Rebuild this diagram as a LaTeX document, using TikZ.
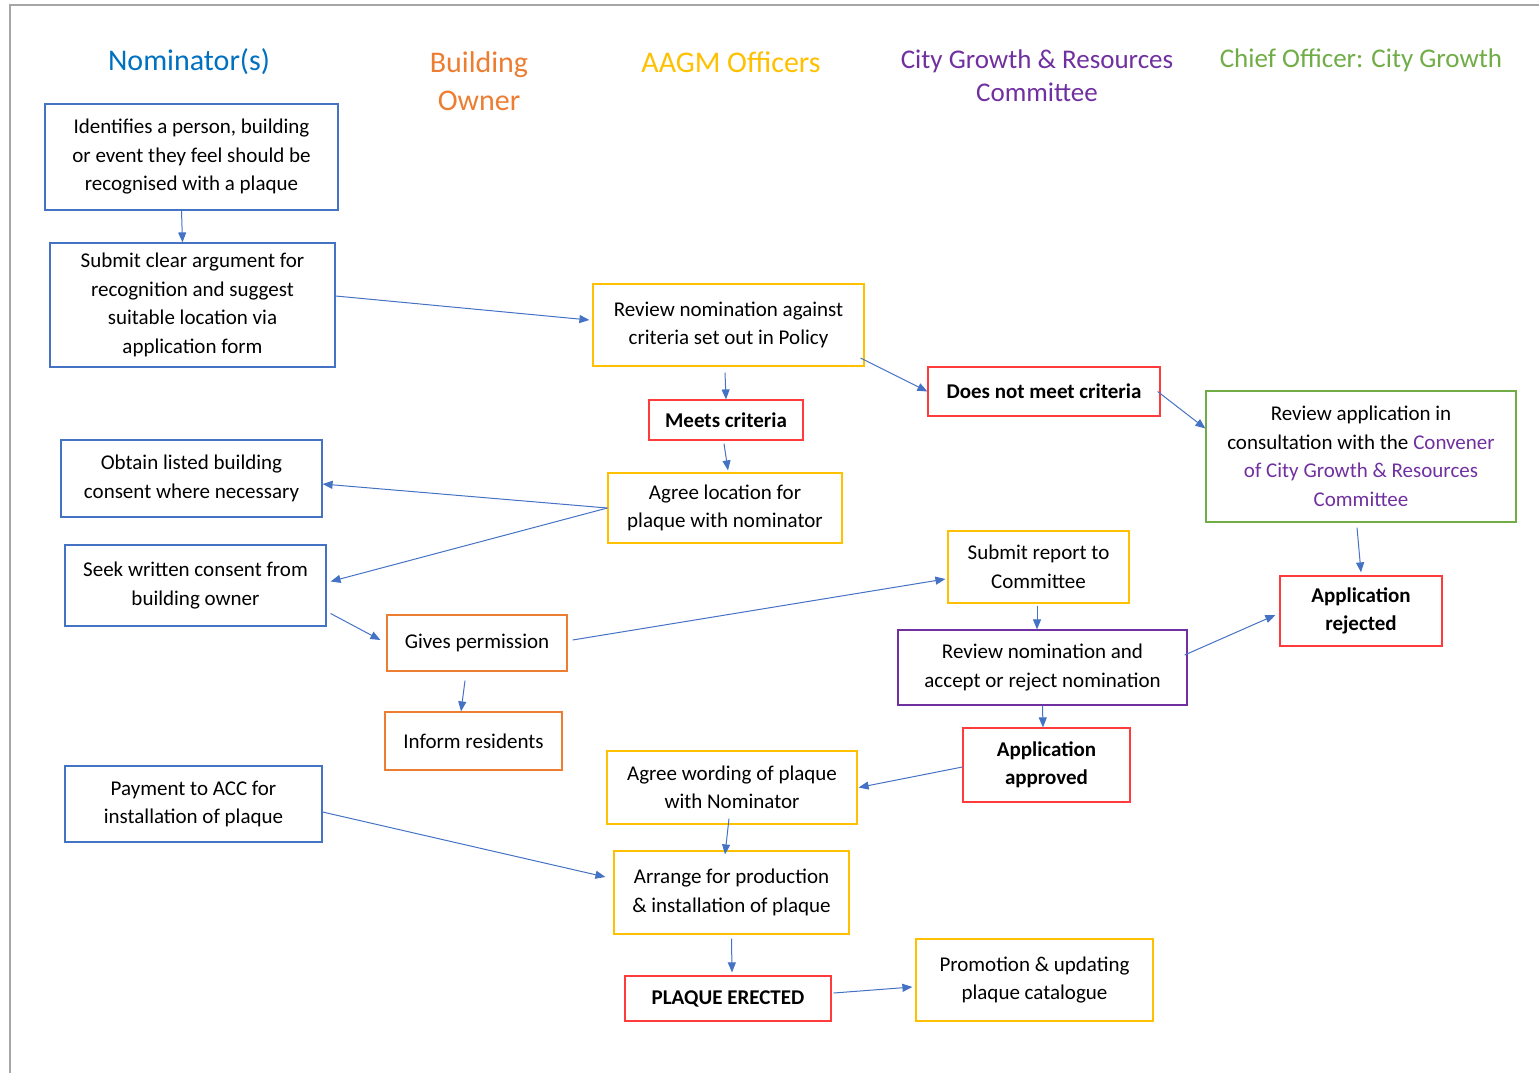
\documentclass[tikz,border=0pt]{standalone}
\usepackage{xcolor}
\usepackage{fontspec}
\setmainfont{Carlito}
\usepackage{tikz}
\usetikzlibrary{arrows.meta}
\definecolor{nomblue}{HTML}{0070C0}
\definecolor{boxblue}{HTML}{4472C4}
\definecolor{ownorange}{HTML}{ED7D31}
\definecolor{aagmgold}{HTML}{FFC000}
\definecolor{cgpurple}{HTML}{7030A0}
\definecolor{chiefgreen}{HTML}{70AD47}
\definecolor{flagred}{HTML}{FF3B3B}
\def\boxfont{\fontsize{21}{28.5}\selectfont}
\def\headfont{\fontsize{30}{38}\selectfont}
\def\subheadfont{\fontsize{27}{33}\selectfont}
\tikzset{
  stage/.style={draw, line width=1.2pt, align=center, inner sep=0pt,
    font=\boxfont, text=black},
  nombox/.style={stage, draw=boxblue},
  ownbox/.style={stage, draw=ownorange},
  aagmbox/.style={stage, draw=aagmgold},
  cgbox/.style={stage, draw=cgpurple},
  chiefbox/.style={stage, draw=chiefgreen},
  flagbox/.style={stage, draw=flagred, font=\boxfont\bfseries},
  flow/.style={draw=boxblue, line width=1pt,
    -{Triangle[length=10pt,width=8pt]}},
  lane/.style={align=center, font=\headfont}
}

\begin{document}
\begin{tikzpicture}[x=1pt, y=-1pt]
  \useasboundingbox (0,0) rectangle (1539,1073);
  \draw[line width=2pt, gray!70] (10,1073) -- (10,5) -- (1539,5);

  \node[lane, text=nomblue] (hnom) at (189,62) {Nominator(s)};
  \node[lane, text=ownorange] (hown) at (479,81) {Building\\Owner};
  \node[lane, text=aagmgold] (haagm) at (731,62) {AAGM Officers};
  \node[lane, text=cgpurple, font=\subheadfont] (hcg) at (1037,76)
    {City Growth \& Resources\\Committee};
  \node[lane, text=chiefgreen, font=\subheadfont] (hchief) at (1361,60)
    {Chief Officer: City Growth};

  \node[nombox, minimum width=293pt, minimum height=106pt] (ident) at (191.5,157)
    {Identifies a person, building\\or event they feel should be\\recognised with a plaque};
  \node[nombox, minimum width=285pt, minimum height=124pt] (submit) at (192.5,305)
    {Submit clear argument for\\recognition and suggest\\suitable location via\\application form};
  \node[aagmbox, minimum width=271pt, minimum height=82pt] (review) at (728.5,325)
    {Review nomination against\\criteria set out in Policy};
  \node[flagbox, minimum width=154pt, minimum height=40pt] (meets) at (726,420)
    {Meets criteria};
  \node[flagbox, minimum width=232pt, minimum height=49pt] (doesnot) at (1044,391.5)
    {Does not meet criteria};
  \node[chiefbox, minimum width=310pt, minimum height=131pt] (reviewapp) at (1361,456.5)
    {Review application in\\consultation with the \textcolor{cgpurple}{Convener}\\
     \textcolor{cgpurple}{of City Growth \& Resources}\\\textcolor{cgpurple}{Committee}};
  \node[nombox, minimum width=261pt, minimum height=77pt] (obtain) at (191.5,478.5)
    {Obtain listed building\\consent where necessary};
  \node[aagmbox, minimum width=234pt, minimum height=70pt] (agreeloc) at (725,508)
    {Agree location for\\plaque with nominator};
  \node[nombox, minimum width=261pt, minimum height=81pt] (seek) at (195.5,585.5)
    {Seek written consent from\\building owner};
  \node[aagmbox, minimum width=181pt, minimum height=72pt] (report) at (1038.5,567)
    {Submit report to\\Committee};
  \node[ownbox, minimum width=180pt, minimum height=56pt] (gives) at (477,643)
    {Gives permission};
  \node[cgbox, minimum width=289pt, minimum height=75pt] (reviewnom) at (1042.5,667.5)
    {Review nomination and\\accept or reject nomination};
  \node[flagbox, minimum width=162pt, minimum height=70pt] (rejected) at (1361,611)
    {Application\\rejected};
  \node[ownbox, minimum width=177pt, minimum height=58pt] (inform) at (473.5,741)
    {Inform residents};
  \node[flagbox, minimum width=167pt, minimum height=74pt] (approved) at (1046.5,765)
    {Application\\approved};
  \node[aagmbox, minimum width=250pt, minimum height=73pt] (wording) at (732,787.5)
    {Agree wording of plaque\\with Nominator};
  \node[nombox, minimum width=257pt, minimum height=76pt] (payment) at (193.5,804)
    {Payment to ACC for\\installation of plaque};
  \node[aagmbox, minimum width=235pt, minimum height=83pt] (arrange) at (731.5,892.5)
    {Arrange for production\\\& installation of plaque};
  \node[flagbox, minimum width=206pt, minimum height=45pt] (erected) at (728,998.5)
    {PLAQUE ERECTED};
  \node[aagmbox, minimum width=237pt, minimum height=82pt] (promotion) at (1034.5,980)
    {Promotion \& updating\\plaque catalogue};

  \draw[flow] ([xshift=-10pt]ident.south) -- ([xshift=-10pt]submit.north);
  \draw[flow] ([yshift=9pt]submit.east) -- ([xshift=-3pt,yshift=5pt]review.west);
  \draw[flow] ([xshift=-3.5pt,yshift=-6pt]review.south) -- (meets.north);
  \draw[flow] ([xshift=-4pt,yshift=-33pt]review.east) -- (doesnot.west);
  \draw[flow] ([xshift=-3pt]doesnot.east) -- ([yshift=28pt]reviewapp.west);
  \draw[flow] ([xshift=-2pt,yshift=-3pt]meets.south) -- ([xshift=3pt,yshift=2pt]agreeloc.north);
  \draw[flow] (agreeloc.west) -- ([yshift=-5.5pt]obtain.east);
  \draw[flow] (agreeloc.west) -- ([xshift=4pt,yshift=4pt]seek.east);
  \draw[flow] ([xshift=4pt,yshift=-28pt]seek.east) -- ([xshift=-6pt,yshift=3pt]gives.west);
  \draw[flow] ([xshift=5pt,yshift=3pt]gives.east) -- ([xshift=-2pt,yshift=-12pt]report.west);
  \draw[flow] ([xshift=-12pt,yshift=-9pt]gives.south) -- ([xshift=-12.5pt]inform.north);
  \draw[flow] ([xshift=-1.5pt,yshift=-2pt]report.south) -- ([xshift=-5.5pt]reviewnom.north);
  \draw[flow] ([xshift=-3pt,yshift=12.5pt]reviewnom.east) -- ([xshift=-4pt,yshift=-4pt]rejected.west);
  \draw[flow] ([xshift=-4pt,yshift=-5pt]reviewapp.south) -- ([yshift=3pt]rejected.north);
  \draw[flow] (reviewnom.south) -- ([xshift=-3.5pt]approved.north);
  \draw[flow] ([yshift=-2pt]approved.west) -- ([xshift=1pt]wording.east);
  \draw[flow] ([xshift=-3pt,yshift=6pt]wording.south) -- ([xshift=-6.5pt,yshift=-4pt]arrange.north);
  \draw[flow] ([yshift=-8pt]payment.east) -- ([xshift=-8pt,yshift=15.5pt]arrange.west);
  \draw[flow] ([yshift=-4pt]arrange.south) -- ([xshift=4pt,yshift=3pt]erected.north);
  \draw[flow] ([xshift=2pt,yshift=5.5pt]erected.east) -- ([xshift=-3pt,yshift=-7pt]promotion.west);
\end{tikzpicture}
\end{document}
